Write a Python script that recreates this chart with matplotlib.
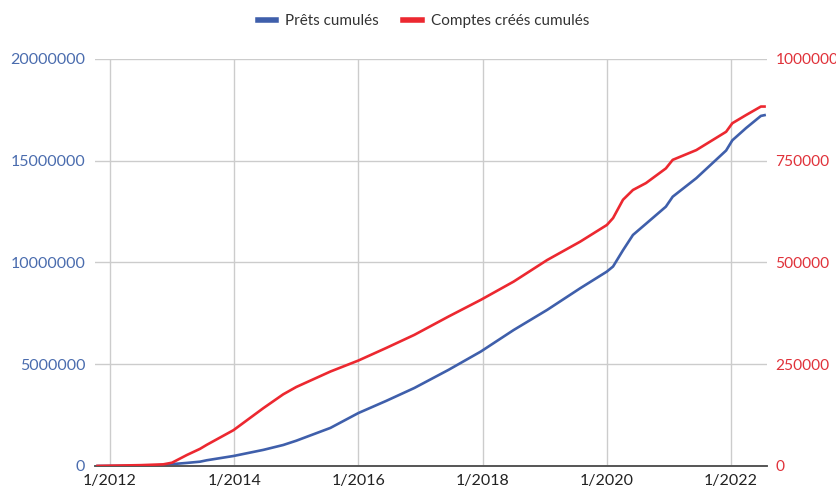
import matplotlib

matplotlib.use("Agg")
import matplotlib.pyplot as plt
from matplotlib.lines import Line2D

plt.rcParams["font.family"] = ["Lato", "DejaVu Sans"]

# decimal years
years = [
    2011.78, 2012.5, 2012.86, 2013.0, 2013.24, 2013.45, 2013.56, 2013.99,
    2014.47, 2014.79, 2015.0, 2015.55, 2016.0, 2016.45, 2016.9, 2017.45, 2017.97,
    2018.5, 2019.04, 2019.57, 2020.0, 2020.1, 2020.26, 2020.42, 2020.63,
    2020.95, 2021.06, 2021.44, 2021.92, 2022.02, 2022.24, 2022.48, 2022.56,
]

# Prêts cumulés (left axis)
loans = [
    0, 10000, 40000, 90000, 150000, 210000, 280000, 490000,
    790000, 1030000, 1240000, 1870000, 2600000, 3200000, 3830000, 4720000, 5620000,
    6680000, 7670000, 8730000, 9550000, 9800000, 10600000, 11350000, 11900000,
    12740000, 13230000, 14140000, 15500000, 16000000, 16600000, 17200000, 17250000,
]

# Comptes créés cumulés (right axis)
accounts = [
    0, 2000, 4000, 8000, 27000, 42000, 52000, 88000,
    142000, 176000, 194000, 232000, 259000, 290000, 322000, 367000, 408000,
    453000, 506000, 551000, 592000, 609000, 654000, 678000, 695000,
    731000, 752000, 776000, 821000, 842000, 862000, 883000, 883000,
]

x_ticks = [2012, 2014, 2016, 2018, 2020, 2022]
x_labels = ["1/2012", "1/2014", "1/2016", "1/2018", "1/2020", "1/2022"]
left_ticks = [0, 5000000, 10000000, 15000000, 20000000]
right_ticks = [0, 250000, 500000, 750000, 1000000]

blue = "#3f5fab"
red = "#ec2830"

fig = plt.figure(figsize=(8.37, 4.91), dpi=100)
ax1 = fig.add_axes([0.1135, 0.051, 0.803, 0.829])
ax2 = ax1.twinx()

ax1.plot(years, loans, color=blue, lw=1.9, solid_capstyle="butt", zorder=3)
ax2.plot(years, accounts, color=red, lw=1.9, solid_capstyle="butt", zorder=3)

ax1.set_xlim(2011.76, 2022.58)
ax1.set_ylim(0, 20000000)
ax2.set_ylim(0, 1000000)

ax1.set_xticks(x_ticks)
ax1.set_xticklabels(x_labels)
ax1.set_yticks(left_ticks)
ax1.set_yticklabels([str(v) for v in left_ticks])
ax2.set_yticks(right_ticks)
ax2.set_yticklabels([str(v) for v in right_ticks])

ax1.grid(True, color="#cccccc", lw=1.0)
ax1.set_axisbelow(True)

for ax in (ax1, ax2):
    for side in ("top", "left", "right"):
        ax.spines[side].set_visible(False)
    ax.spines["bottom"].set_color("#555555")
    ax.spines["bottom"].set_linewidth(1.2)

ax1.tick_params(axis="x", length=0, pad=6, labelsize=11.5, labelcolor="#222222")
ax1.tick_params(axis="y", length=0, pad=7, labelsize=11.5, labelcolor="#4a6cae")
ax2.tick_params(axis="y", length=0, pad=6, labelsize=11.2, labelcolor="#e0323a")

handles = [
    Line2D([], [], color=blue, lw=4),
    Line2D([], [], color=red, lw=4),
]
fig.legend(
    handles,
    ["Prêts cumulés", "Comptes créés cumulés"],
    loc="center",
    bbox_to_anchor=(0.506, 0.957),
    ncol=2,
    frameon=False,
    fontsize=11,
    handlelength=1.2,
    handletextpad=0.6,
    columnspacing=1.6,
    labelcolor="#333333",
)

fig.savefig("out.png", dpi=100)
